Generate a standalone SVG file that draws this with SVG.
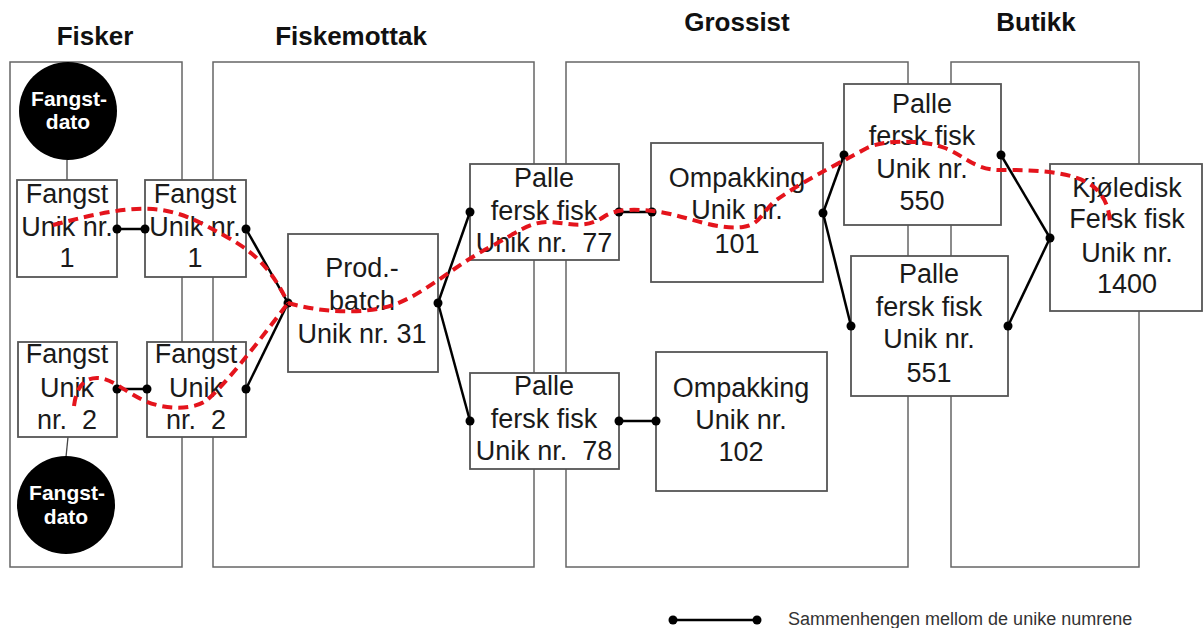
<svg xmlns="http://www.w3.org/2000/svg" width="1204" height="628" viewBox="0 0 1204 628">
<style>
.panel{fill:#fff;stroke:#666;stroke-width:1.5}
.box{fill:#fff;stroke:#555;stroke-width:1.8}
.t{font-family:"Liberation Sans",Arial,sans-serif;font-size:27px;fill:#1a1a1a;text-anchor:middle;white-space:pre}
.title{font-family:"Liberation Sans",Arial,sans-serif;font-size:26px;font-weight:bold;fill:#111;text-anchor:middle}
.ct{font-family:"Liberation Sans",Arial,sans-serif;font-size:21px;font-weight:bold;fill:#fff;text-anchor:middle}
.con{stroke:#000;stroke-width:2.5;fill:none}
.thin{stroke:#444;stroke-width:1.3;fill:none}
.dot{fill:#000}
.trace{fill:none;stroke:#e4141c;stroke-width:4;stroke-dasharray:10 6}
.leg{font-family:"Liberation Sans",Arial,sans-serif;font-size:18px;fill:#333}
</style>
<rect width="1204" height="628" fill="#fff"/>
<g id="titles">
<text class="title" x="95" y="45">Fisker</text>
<text class="title" x="351" y="45">Fiskemottak</text>
<text class="title" x="737" y="31">Grossist</text>
<text class="title" x="1036" y="31">Butikk</text>
</g>
<g id="panels">
<rect id="panel-fisker" class="panel" x="10" y="62" width="172" height="505"/>
<rect id="panel-fiskemottak" class="panel" x="213" y="62" width="321" height="505"/>
<rect id="panel-grossist" class="panel" x="566" y="62" width="342" height="505"/>
<rect id="panel-butikk" class="panel" x="951" y="62" width="188" height="505"/>
</g>
<g id="connectors">
<line class="thin" x1="67" y1="160" x2="67" y2="180"/>
<line class="thin" x1="68" y1="437" x2="66" y2="457"/>
</g>
<g id="node-fangstdato-1">
<circle cx="68" cy="111" r="49" fill="#000"/>
<text class="ct" x="69" y="106">Fangst-</text>
<text class="ct" x="68" y="129">dato</text>
</g>
<g id="node-fangstdato-2">
<circle cx="66" cy="505" r="49" fill="#000"/>
<text class="ct" x="67" y="500">Fangst-</text>
<text class="ct" x="66" y="524">dato</text>
</g>
<g id="node-fisker-1">
<rect class="box" x="17" y="180" width="100" height="97"/>
<text class="t" x="67" y="203">Fangst</text>
<text class="t" x="67" y="236">Unik nr.</text>
<text class="t" x="67" y="267">1</text>
</g>
<g id="node-fisker-2">
<rect class="box" x="18" y="342" width="99" height="95"/>
<text class="t" x="67" y="363">Fangst</text>
<text class="t" x="67" y="397">Unik</text>
<text class="t" x="67" y="429">nr.  2</text>
</g>
<g id="node-mottak-1">
<rect class="box" x="145" y="180" width="101" height="97"/>
<text class="t" x="195" y="203">Fangst</text>
<text class="t" x="195" y="236">Unik nr.</text>
<text class="t" x="195" y="267">1</text>
</g>
<g id="node-mottak-2">
<rect class="box" x="147" y="342" width="99" height="95"/>
<text class="t" x="196" y="363">Fangst</text>
<text class="t" x="196" y="397">Unik</text>
<text class="t" x="196" y="429">nr.  2</text>
</g>
<g id="node-prodbatch">
<rect class="box" x="288" y="234" width="150" height="138"/>
<text class="t" x="362" y="277">Prod.-</text>
<text class="t" x="362" y="310">batch</text>
<text class="t" x="362" y="343">Unik nr. 31</text>
</g>
<g id="node-palle-77">
<rect class="box" x="470" y="164" width="149" height="96"/>
<text class="t" x="544" y="187">Palle</text>
<text class="t" x="544" y="220">fersk fisk</text>
<text class="t" x="544" y="252">Unik nr.  77</text>
</g>
<g id="node-palle-78">
<rect class="box" x="470" y="373" width="149" height="96"/>
<text class="t" x="544" y="395">Palle</text>
<text class="t" x="544" y="428">fersk fisk</text>
<text class="t" x="544" y="460">Unik nr.  78</text>
</g>
<g id="node-ompakking-101">
<rect class="box" x="651" y="143" width="172" height="139"/>
<text class="t" x="737" y="187">Ompakking</text>
<text class="t" x="737" y="219">Unik nr.</text>
<text class="t" x="737" y="253">101</text>
</g>
<g id="node-ompakking-102">
<rect class="box" x="656" y="352" width="171" height="139"/>
<text class="t" x="741" y="397">Ompakking</text>
<text class="t" x="741" y="429">Unik nr.</text>
<text class="t" x="741" y="461">102</text>
</g>
<g id="node-palle-550">
<rect class="box" x="844" y="84" width="157" height="141"/>
<text class="t" x="922" y="113">Palle</text>
<text class="t" x="922" y="145">fersk fisk</text>
<text class="t" x="922" y="178">Unik nr.</text>
<text class="t" x="922" y="210">550</text>
</g>
<g id="node-palle-551">
<rect class="box" x="851" y="256" width="157" height="140"/>
<text class="t" x="929" y="283">Palle</text>
<text class="t" x="929" y="316">fersk fisk</text>
<text class="t" x="929" y="348">Unik nr.</text>
<text class="t" x="929" y="382">551</text>
</g>
<g id="node-kjoledisk">
<rect class="box" x="1050" y="164" width="152" height="147"/>
<text class="t" x="1127" y="197">Kjøledisk</text>
<text class="t" x="1127" y="228">Fersk fisk</text>
<text class="t" x="1127" y="262">Unik nr.</text>
<text class="t" x="1127" y="293">1400</text>
</g>
<g id="links">
<line class="con" x1="117" y1="229" x2="145" y2="229"/>
<line class="con" x1="117" y1="389" x2="147" y2="389"/>
<line class="con" x1="246" y1="229" x2="288" y2="303"/>
<line class="con" x1="246" y1="389" x2="288" y2="303"/>
<line class="con" x1="438" y1="303" x2="470" y2="212"/>
<line class="con" x1="438" y1="303" x2="470" y2="421"/>
<line class="con" x1="619" y1="212" x2="652" y2="212"/>
<line class="con" x1="619" y1="421" x2="656" y2="421"/>
<line class="con" x1="823" y1="213" x2="844" y2="155"/>
<line class="con" x1="823" y1="213" x2="851" y2="326"/>
<line class="con" x1="1001" y1="155" x2="1050" y2="238"/>
<line class="con" x1="1008" y1="326" x2="1050" y2="238"/>
<circle class="dot" cx="117" cy="229" r="4.5"/>
<circle class="dot" cx="145" cy="229" r="4.5"/>
<circle class="dot" cx="117" cy="389" r="4.5"/>
<circle class="dot" cx="147" cy="389" r="4.5"/>
<circle class="dot" cx="246" cy="229" r="4.5"/>
<circle class="dot" cx="246" cy="389" r="4.5"/>
<circle class="dot" cx="288" cy="303" r="4.5"/>
<circle class="dot" cx="438" cy="303" r="4.5"/>
<circle class="dot" cx="470" cy="212" r="4.5"/>
<circle class="dot" cx="470" cy="421" r="4.5"/>
<circle class="dot" cx="619" cy="212" r="4.5"/>
<circle class="dot" cx="652" cy="212" r="4.5"/>
<circle class="dot" cx="619" cy="421" r="4.5"/>
<circle class="dot" cx="656" cy="421" r="4.5"/>
<circle class="dot" cx="823" cy="213" r="4.5"/>
<circle class="dot" cx="844" cy="155" r="4.5"/>
<circle class="dot" cx="851" cy="326" r="4.5"/>
<circle class="dot" cx="1001" cy="155" r="4.5"/>
<circle class="dot" cx="1008" cy="326" r="4.5"/>
<circle class="dot" cx="1050" cy="238" r="4.5"/>
</g>
<g id="trace">
<path class="trace" d="M53,225 C80,218 120,207 153,209 C180,211 200,222 225,236 C255,252 272,270 288,303"/>
<path class="trace" d="M74,406 C76,390 82,378 97,378 C112,378 125,392 145,401 C165,410 195,410 207,400 C225,385 260,340 288,303"/>
<path class="trace" d="M288,303 C315,311 360,316 393,305 C425,294 455,265 490,247 C515,234 530,221 550,222 C570,223 585,230 605,216 C618,208 640,209 660,212 C690,217 715,230 743,227 C760,225 762,212 775,201 C800,183 830,168 867,148 C885,139 925,140 945,148 C965,156 975,170 1000,170 C1030,170 1075,170 1095,188 C1108,200 1110,215 1110,226"/>
</g>
<g id="legend">
<line class="con" x1="673" y1="620" x2="757" y2="620"/>
<circle class="dot" cx="673" cy="620" r="4.5"/>
<circle class="dot" cx="757" cy="620" r="4.5"/>
<text class="leg" x="788" y="625">Sammenhengen mellom de unike numrene</text>
</g>
</svg>
